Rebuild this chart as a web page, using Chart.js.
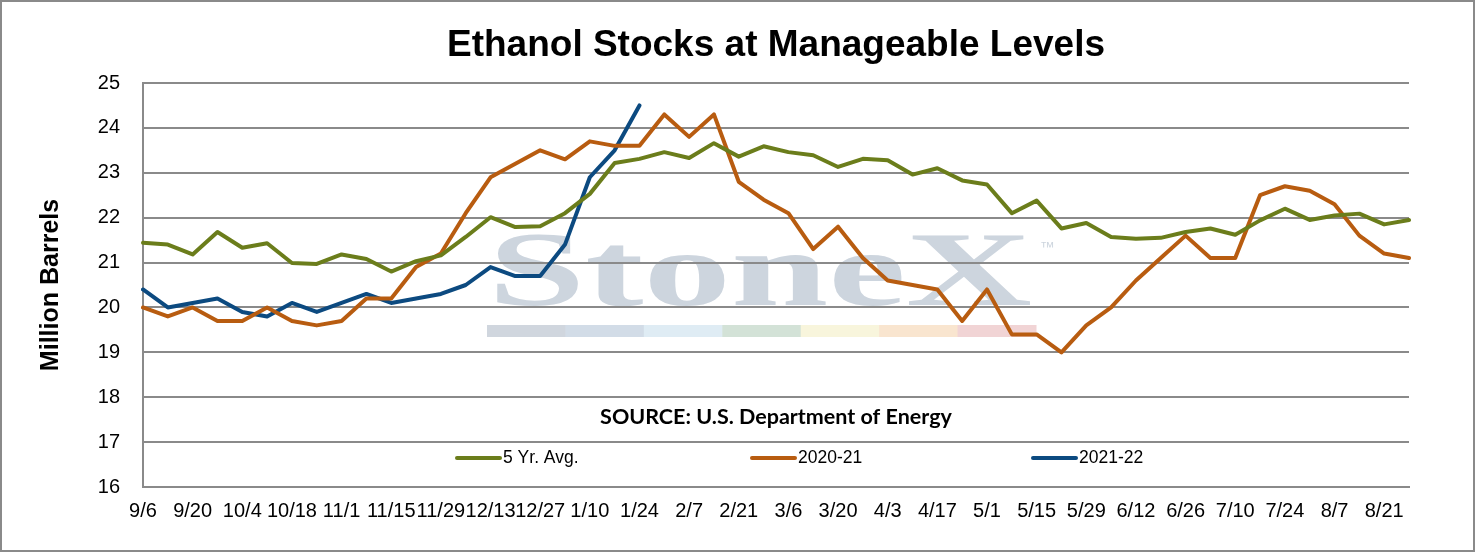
<!DOCTYPE html>
<html><head><meta charset="utf-8">
<script src="https://cdn.jsdelivr.net/npm/chart.js@4.4.0/dist/chart.umd.min.js"></script>
<style>html,body{margin:0;padding:0;background:#fff;overflow:hidden}#wrap{width:1475px;height:552px}</style>
</head><body><div id="wrap"><canvas id="c" width="1475" height="552"></canvas></div>
<script>
const weeks = ['9/6','9/13','9/20','9/27','10/4','10/11','10/18','10/25','11/1','11/8','11/15','11/22','11/29','12/6','12/13','12/20','12/27','1/3','1/10','1/17','1/24','1/31','2/7','2/14','2/21','2/28','3/6','3/13','3/20','3/27','4/3','4/10','4/17','4/24','5/1','5/8','5/15','5/22','5/29','6/5','6/12','6/19','6/26','7/3','7/10','7/17','7/24','7/31','8/7','8/14','8/21','8/28'];
const fiveYrAvg = [21.44,21.40,21.18,21.68,21.33,21.43,20.99,20.97,21.18,21.08,20.80,21.03,21.16,21.57,22.01,21.79,21.81,22.10,22.53,23.22,23.31,23.46,23.33,23.66,23.36,23.59,23.46,23.39,23.13,23.31,23.28,22.96,23.10,22.83,22.74,22.10,22.38,21.76,21.88,21.57,21.53,21.55,21.68,21.76,21.62,21.94,22.20,21.95,22.05,22.09,21.85,21.95];
const y2020_21 = [20.0,19.8,20.0,19.7,19.7,20.0,19.7,19.6,19.7,20.2,20.2,20.9,21.2,22.1,22.9,23.2,23.5,23.3,23.7,23.6,23.6,24.3,23.8,24.3,22.8,22.4,22.1,21.3,21.8,21.1,20.6,20.5,20.4,19.7,20.4,19.4,19.4,19.0,19.6,20.0,20.6,21.1,21.6,21.1,21.1,22.5,22.7,22.6,22.3,21.6,21.2,21.1];
const y2021_22 = [20.4,20.0,20.1,20.2,19.9,19.8,20.1,19.9,20.1,20.3,20.1,20.2,20.3,20.5,20.9,20.7,20.7,21.4,22.9,23.5,24.5];
const seriesNames = ['5 Yr. Avg.','2020-21','2021-22'];
const seriesColors = ['#6b7d1b','#b85c10','#0c4a80'];
const titleText = 'Ethanol Stocks at Manageable Levels';
const yAxisTitle = 'Million Barrels';
const sourceText = 'SOURCE: U.S. Department of Energy';
const yMin = 16, yMax = 25;

const SANS = '"Liberation Sans", Arial, sans-serif';

const decor = {
  id: 'decor',
  beforeDraw(chart) {
    const ctx = chart.ctx;
    ctx.save();
    ctx.fillStyle = '#ffffff';
    ctx.fillRect(0, 0, chart.width, chart.height);
    // watermark
    const wmColor = '#cdd5de';
    ctx.fillStyle = wmColor;
    ctx.font = 'bold 106px "Liberation Serif", "DejaVu Serif", serif';
    ctx.textBaseline = 'alphabetic';
    ctx.textAlign = 'left';
    const w = ctx.measureText('StoneX').width;
    const targetW = 544;
    ctx.save();
    ctx.translate(488, 305);
    ctx.scale(targetW / w, 1);
    ctx.fillText('StoneX', 0, 0);
    ctx.restore();
    ctx.font = '15px ' + SANS;
    ctx.fillText('\u2122', 1040, 252);
    const segs = ['#d0d6de','#d2dce7','#dfecf4','#d3e2d7','#f8f5dc','#f9e5cf','#f1d4d5'];
    const bx = 487, bw = (1036 - 487) / segs.length;
    segs.forEach((c, i) => { ctx.fillStyle = c; ctx.fillRect(bx + i * bw, 325, bw + 0.5, 12); });
    ctx.restore();
  },
  afterDraw(chart) {
    const ctx = chart.ctx, ca = chart.chartArea;
    ctx.save();
    // title
    ctx.fillStyle = '#000';
    ctx.font = 'bold 37px ' + SANS;
    ctx.textAlign = 'center';
    ctx.textBaseline = 'middle';
    ctx.fillText(titleText, (ca.left + ca.right) / 2, 46);
    // y axis title
    ctx.save();
    ctx.translate(51, (ca.top + ca.bottom) / 2);
    ctx.rotate(-Math.PI / 2);
    ctx.font = 'bold 25px ' + SANS;
    ctx.fillText(yAxisTitle, 0, 0);
    ctx.restore();
    // source
    ctx.font = 'bold 21.5px Lato, "Open Sans", sans-serif';
    ctx.fillText(sourceText, (ca.left + ca.right) / 2, 417);
    // legend
    const lx = [457, 752, 1033];
    ctx.font = '17.5px ' + SANS;
    ctx.textAlign = 'left';
    chart.data.datasets.forEach((ds, i) => {
      ctx.strokeStyle = ds.borderColor;
      ctx.lineWidth = 4;
      ctx.lineCap = 'round';
      ctx.beginPath();
      ctx.moveTo(lx[i], 458);
      ctx.lineTo(lx[i] + 43, 458);
      ctx.stroke();
      ctx.fillStyle = '#000';
      ctx.fillText(ds.label, lx[i] + 46, 458);
    });
    // outer border
    ctx.strokeStyle = '#8a8a8a';
    ctx.lineWidth = 2;
    ctx.strokeRect(1, 1, chart.width - 2, chart.height - 2);
    ctx.restore();
  }
};

new Chart(document.getElementById('c'), {
  type: 'line',
  data: {
    labels: weeks,
    datasets: [
      { label: seriesNames[0], data: fiveYrAvg, borderColor: seriesColors[0] },
      { label: seriesNames[1], data: y2020_21, borderColor: seriesColors[1] },
      { label: seriesNames[2], data: y2021_22, borderColor: seriesColors[2] }
    ].map(d => Object.assign(d, { borderWidth: 4, pointRadius: 0, tension: 0, fill: false, borderJoinStyle: 'round', borderCapStyle: 'round' }))
  },
  options: {
    responsive: false,
    animation: false,
    devicePixelRatio: 1,
    layout: { padding: { top: 83, right: 66, bottom: 0, left: 0 } },
    plugins: { legend: { display: false }, title: { display: false }, tooltip: { enabled: false } },
    scales: {
      x: {
        offset: false,
        grid: { display: false, drawTicks: false },
        border: { display: true, color: '#8a8a8a', width: 2 },
        ticks: {
          autoSkip: false, maxRotation: 0, minRotation: 0, padding: 12,
          color: '#000', font: { family: SANS, size: 20 },
          callback: function (v, i) { return i % 2 === 0 ? this.getLabelForValue(v) : ''; }
        },
        afterFit: s => { s.height = 65; }
      },
      y: {
        min: yMin, max: yMax,
        grid: { color: '#8a8a8a', lineWidth: 2, drawTicks: false },
        border: { display: true, color: '#8a8a8a', width: 2 },
        ticks: { stepSize: 1, padding: 23, color: '#000', font: { family: SANS, size: 20 } },
        afterFit: s => { s.width = 143; }
      }
    }
  },
  plugins: [decor]
});
</script></body></html>
